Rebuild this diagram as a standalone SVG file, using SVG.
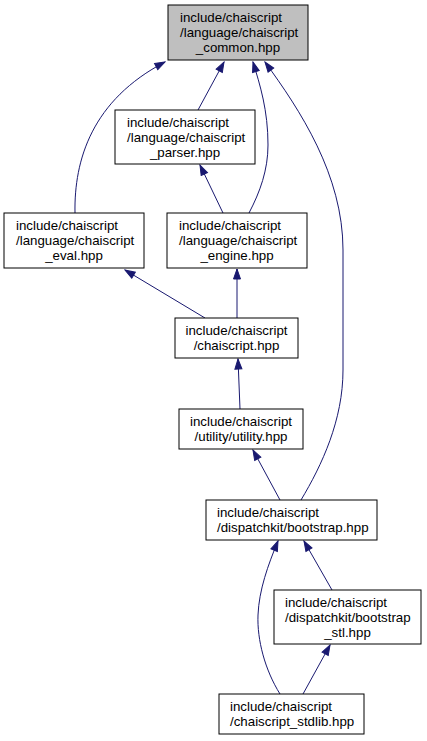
<svg xmlns="http://www.w3.org/2000/svg" width="427" height="741" viewBox="0 0 427 741">
<style>
.n rect{fill:#fff;stroke:#000;stroke-width:1}
.n.hl rect{fill:#bfbfbf}
.n text{font-family:"Liberation Sans",Arial,Helvetica,sans-serif;font-size:13.3px;fill:#000}
.n text.c{text-anchor:middle}
.e path{fill:none;stroke:#191970;stroke-width:1;marker-end:url(#ah)}
</style>
<defs>
<marker id="ah" markerUnits="userSpaceOnUse" markerWidth="12" markerHeight="9" refX="11" refY="4.5" orient="auto" viewBox="0 0 12 9">
<path d="M1,1 L11,4.5 L1,8 z" fill="#191970" stroke="#191970" stroke-width="1"/>
</marker>
</defs>
<rect width="427" height="741" fill="#fff"/>
<g id="edges" class="e">
<path d="M75,213 C74,160 92,100 165,62"/>
<path d="M198,110 L224,62"/>
<path d="M249,213 C260,192 268,170 268,145 C268,110 260,85 253,62"/>
<path d="M301,500 C322,465 343,420 343,370 L343,250 C343,175 300,110 265,62"/>
<path d="M223,213 L200,165"/>
<path d="M205,318 L125,270"/>
<path d="M237,318 L237,269"/>
<path d="M240,409 L238,359"/>
<path d="M280,500 L253,450"/>
<path d="M332,590 L304,541"/>
<path d="M280,694 C265,670 257,640 258,615 C259,590 268,565 278,541"/>
<path d="M303,694 L330,645"/>
</g>
<g id="node-common" class="n hl">
<rect x="168" y="5" width="140" height="55"/>
<text x="180" y="22">include/chaiscript</text>
<text x="180" y="37">/language/chaiscript</text>
<text class="c" x="238" y="52">_common.hpp</text>
</g>
<g id="node-parser" class="n">
<rect x="115" y="110" width="140" height="54"/>
<text x="127" y="127">include/chaiscript</text>
<text x="127" y="142">/language/chaiscript</text>
<text class="c" x="185" y="157">_parser.hpp</text>
</g>
<g id="node-eval" class="n">
<rect x="4" y="213" width="140" height="55"/>
<text x="16" y="230">include/chaiscript</text>
<text x="16" y="245">/language/chaiscript</text>
<text class="c" x="74" y="260">_eval.hpp</text>
</g>
<g id="node-engine" class="n">
<rect x="167" y="213" width="140" height="55"/>
<text x="179" y="230">include/chaiscript</text>
<text x="179" y="245">/language/chaiscript</text>
<text class="c" x="237" y="260">_engine.hpp</text>
</g>
<g id="node-chaiscript" class="n">
<rect x="175" y="318" width="123" height="40"/>
<text class="c" x="236.5" y="335">include/chaiscript</text>
<text class="c" x="236.5" y="350">/chaiscript.hpp</text>
</g>
<g id="node-utility" class="n">
<rect x="179" y="409" width="124" height="40"/>
<text class="c" x="241" y="426">include/chaiscript</text>
<text class="c" x="241" y="441">/utility/utility.hpp</text>
</g>
<g id="node-bootstrap" class="n">
<rect x="206" y="500" width="171" height="40"/>
<text x="217" y="517">include/chaiscript</text>
<text x="217" y="532">/dispatchkit/bootstrap.hpp</text>
</g>
<g id="node-bootstrap-stl" class="n">
<rect x="274" y="590" width="147" height="54"/>
<text x="285" y="607">include/chaiscript</text>
<text x="285" y="622">/dispatchkit/bootstrap</text>
<text class="c" x="347.5" y="637">_stl.hpp</text>
</g>
<g id="node-stdlib" class="n">
<rect x="219" y="694" width="145" height="40"/>
<text x="230" y="711">include/chaiscript</text>
<text x="230" y="726">/chaiscript_stdlib.hpp</text>
</g>
</svg>
